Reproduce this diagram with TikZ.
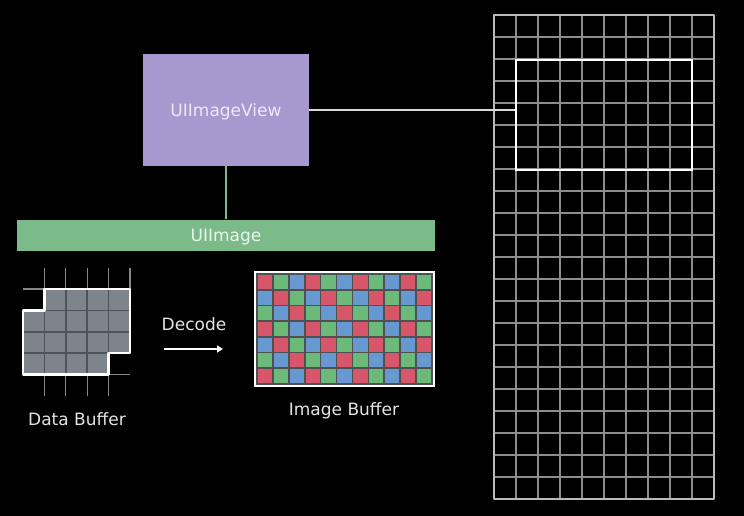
\documentclass[tikz,border=0pt]{standalone}
\usepackage{fontspec}
\setmainfont{DejaVu Sans}
\usepackage{tikz}
\usetikzlibrary{arrows.meta}
\definecolor{viewpurple}{RGB}{168,152,208}
\definecolor{imagegreen}{RGB}{125,186,138}
\definecolor{cellgray}{RGB}{125,132,140}
\definecolor{celldark}{RGB}{78,83,90}
\definecolor{stubgray}{RGB}{135,135,135}
\definecolor{gridgray}{RGB}{140,140,140}
\definecolor{labelwhite}{RGB}{228,228,228}
\definecolor{pixred}{RGB}{214,88,104}
\definecolor{pixgreen}{RGB}{108,186,122}
\definecolor{pixblue}{RGB}{104,152,208}
\definecolor{pixgap}{RGB}{80,80,84}
\colorlet{px0}{pixred}
\colorlet{px1}{pixgreen}
\colorlet{px2}{pixblue}

\tikzset{
  lbl/.style={font=\fontsize{17}{20}\selectfont, text=labelwhite},
  viewbox/.style={fill=viewpurple, minimum width=166pt, minimum height=112pt, text depth=0pt,
    font=\fontsize{17}{20}\selectfont, text={rgb,255:red,238;green,232;blue,248}},
  imagebar/.style={fill=imagegreen, minimum width=418pt, minimum height=31pt, text depth=0pt,
    font=\fontsize{17}{20}\selectfont, text={rgb,255:red,232;green,245;blue,235}},
  viewport/.style={draw=white, line width=2.8pt, minimum width=176pt, minimum height=110pt},
  gridline/.style={gridgray, line width=1.4pt},
  stub/.style={stubgray, line width=1.3pt},
  greenlink/.style={imagegreen, line width=2pt},
  whitelink/.style={white!85!black, line width=2pt},
  decodearrow/.style={white, line width=2pt, -{Triangle[length=6pt,width=7pt]}}
}

\begin{document}
\begin{tikzpicture}[x=1pt,y=-1pt]
  \fill[black] (0,0) rectangle (744,516);
  \useasboundingbox (0,0) rectangle (744,516);

  % Screen grid
  \begin{scope}[shift={(494,15)}]
    \foreach \i in {0,...,10} \draw[gridline] (22*\i,0) -- (22*\i,484);
    \foreach \j in {0,...,22} \draw[gridline] (0,22*\j) -- (220,22*\j);
    \draw[gridline, gridgray!60!white, line join=round] (0,0) rectangle (220,484);
  \end{scope}
  \node[viewport] (port) at (604,115) {};

  % View and image
  \node[viewbox] (view) at (226,110) {UIImageView};
  \node[imagebar] (image) at (226,235) {UIImage};
  \draw[greenlink] (view.south) -- (image.north);
  \draw[whitelink] (view.east) -- (view.east -| port.west);

  % Data buffer
  \def\cs{21.4}
  \def\bufshape{(\cs,0) -- (5*\cs,0) -- (5*\cs,3*\cs) -- (4*\cs,3*\cs) -- (4*\cs,4*\cs) -- (0,4*\cs) -- (0,\cs) -- (\cs,\cs) -- cycle}
  \begin{scope}[shift={(23,289)}]
    \foreach \i in {1,...,5} \draw[stub] (\i*\cs,-\cs) -- (\i*\cs,0);
    \foreach \i in {1,...,4} \draw[stub] (\i*\cs,4*\cs) -- (\i*\cs,5*\cs);
    \draw[stub] (0,0) -- (\cs,0);
    \draw[stub] (4*\cs,4*\cs) -- (5*\cs,4*\cs);
    \begin{scope}
      \clip \bufshape;
      \fill[cellgray] (0,0) rectangle (5*\cs,4*\cs);
      \foreach \i in {1,...,4} \draw[celldark, line width=1.5pt] (\i*\cs,0) -- (\i*\cs,4*\cs);
      \foreach \j in {1,...,3} \draw[celldark, line width=1.5pt] (0,\j*\cs) -- (5*\cs,\j*\cs);
    \end{scope}
    \draw[white, line width=2.4pt, line join=round] \bufshape;
  \end{scope}
  \node[lbl] (databuf) at (77,419) {Data Buffer};

  % Decode step
  \coordinate (decfrom) at (164,349);
  \coordinate (decto) at (223,349);
  \draw[decodearrow] (decfrom) -- (decto);
  \node[lbl] (decode) at (194,324) {Decode};

  % Image buffer
  \begin{scope}[shift={(255,272)}]
    \fill[pixgap] (0,0) rectangle (179,114);
    \foreach \r in {0,...,6}
      \foreach \c in {0,...,10} {
        \pgfmathtruncatemacro\k{mod(\c-\r+6,3)}
        \fill[px\k] (2.8+\c*15.91,2.8+\r*15.71) rectangle ++(14.3,14.1);
      }
    \draw[white, line width=2.2pt] (0,0) rectangle (179,114);
  \end{scope}
  \node[lbl] (imgbuf) at (344,411) {Image Buffer};
\end{tikzpicture}
\end{document}
